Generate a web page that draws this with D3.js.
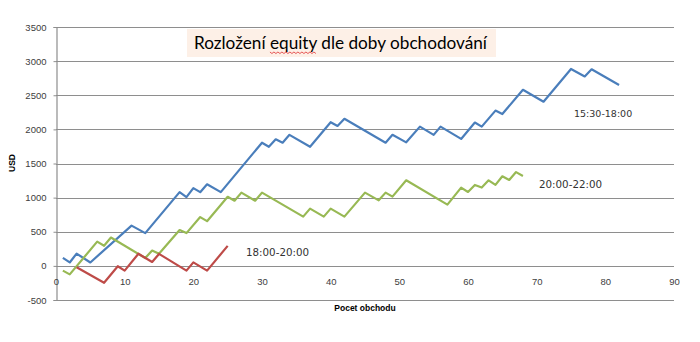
<!DOCTYPE html>
<html>
<head>
<meta charset="utf-8">
<script src="https://cdn.jsdelivr.net/npm/d3@7"></script>
<style>
	body { margin: 0; background: #fff; }
	svg { display: block; }
</style>
</head>
<body>
<main></main>
<script>

// DATA
// chart title and axis titles
const chartTitle = "Rozložení equity dle doby obchodování";
const xTitle = "Pocet obchodu";
const yTitle = "USD";
// tick labels
const xTicks = [0, 10, 20, 30, 40, 50, 60, 70, 80, 90];
const yTicks = [-500, 0, 500, 1000, 1500, 2000, 2500, 3000, 3500];
// series names
const seriesNames = ["15:30-18:00", "20:00-22:00", "18:00-20:00"];
// 15:30-18:00 (turning points of the equity curve)
const blueX = [1, 2, 3, 5, 11, 13, 18, 19, 20, 21, 22, 24, 30, 31, 32, 33, 34, 37, 40, 41, 42, 48, 49, 51, 53, 55, 56, 59, 61, 62, 64, 65, 68, 71, 75, 77, 78, 82];
const blueY = [118, 50, 180, 50, 590, 480, 1080, 1008, 1140, 1080, 1195, 1080, 1805, 1745, 1855, 1805, 1920, 1745, 2105, 2050, 2155, 1805, 1920, 1810, 2040, 1920, 2040, 1860, 2100, 2040, 2275, 2225, 2580, 2405, 2885, 2775, 2880, 2650];
// 20:00-22:00
const greenX = [1, 2, 6, 7, 8, 13, 14, 15, 18, 19, 21, 22, 25, 26, 27, 29, 30, 36, 37, 39, 40, 42, 45, 47, 48, 49, 51, 57, 59, 60, 61, 62, 63, 64, 65, 66, 67, 68];
const greenY = [-70, -125, 355, 295, 415, 115, 225, 178, 525, 480, 715, 655, 1012, 955, 1073, 955, 1073, 722, 839, 722, 839, 722, 1073, 960, 1073, 1015, 1254, 898, 1147, 1083, 1186, 1147, 1254, 1186, 1313, 1259, 1374, 1318];
// 18:00-20:00
const redX = [3, 7, 9, 10, 12, 14, 15, 19, 20, 22, 25];
const redY = [-20, -248, -5, -70, 178, 57, 175, -70, 52, -70, 293];


// CALLBACK: draw the chart with d3
function visualizeData() {
	// dimension
	const w = 700;
	const h = 342;
	const left = 56, right = 674, top = 27, bottom = 300;

	// scales
	const xScale = d3.scaleLinear().domain([0, 90]).range([left, right]);
	const yScale = d3.scaleLinear().domain([-500, 3500]).range([bottom, top]);

	// append an svg
	const svgNode = d3.select("main").append("svg").attr("width", w).attr("height", h);

	// horizontal gridlines
	svgNode.append("g").selectAll("line").data(yTicks).enter().append("line")
		.attr("x1", left).attr("x2", right)
		.attr("y1", d => Math.round(yScale(d)) + 0.5).attr("y2", d => Math.round(yScale(d)) + 0.5)
		.attr("stroke", "#8e8e8e").attr("stroke-width", 1.2);

	// y axis (line, small outside ticks, labels)
	const yAxis = d3.axisLeft(yScale).tickValues(yTicks).tickSize(3).tickPadding(7).tickFormat(d => d);
	const yG = svgNode.append("g").attr("transform", "translate(" + (left + 0.5) + ",0)").call(yAxis);
	yG.select(".domain").attr("stroke", "#8e8e8e").attr("stroke-width", 1.2);
	yG.selectAll(".tick line").attr("stroke", "#8e8e8e");
	yG.selectAll("text").attr("font-family", "Liberation Sans, Arial, sans-serif").attr("font-size", 9.5).attr("fill", "#404040");

	// x axis labels sit just under the zero line
	const xAxis = d3.axisBottom(xScale).tickValues(xTicks).tickSize(0).tickPadding(12);
	const xG = svgNode.append("g").attr("transform", "translate(0," + yScale(0) + ")").call(xAxis);
	xG.select(".domain").remove();
	xG.selectAll("text").attr("font-family", "Liberation Sans, Arial, sans-serif").attr("font-size", 9.5).attr("fill", "#404040");

	// axis titles
	svgNode.append("text").text(xTitle)
		.attr("x", 365).attr("y", 311).attr("text-anchor", "middle")
		.attr("font-family", "Liberation Sans, Arial, sans-serif").attr("font-size", 8.5).attr("font-weight", "bold").attr("fill", "#000");
	svgNode.append("text").text(yTitle)
		.attr("transform", "translate(15,163) rotate(-90)").attr("text-anchor", "middle")
		.attr("font-family", "Liberation Sans, Arial, sans-serif").attr("font-size", 8.5).attr("font-weight", "bold").attr("fill", "#000");

	// lines
	const line = d3.line().x(d => xScale(d[0])).y(d => yScale(d[1]));
	const series = [
		{ xs: blueX, ys: blueY, color: "#4a7ebb" },
		{ xs: greenX, ys: greenY, color: "#98b954" },
		{ xs: redX, ys: redY, color: "#be4b48" }
	];
	series.forEach(s => {
		svgNode.append("path")
			.datum(d3.zip(s.xs, s.ys))
			.attr("d", line)
			.attr("fill", "none")
			.attr("stroke", s.color)
			.attr("stroke-width", 2.2)
			.attr("stroke-linejoin", "round");
	});

	// series labels
	const labelPos = [[574, 117, 9.5], [539, 188, 10.3], [246, 256, 10.3]];
	seriesNames.forEach((name, i) => {
		svgNode.append("text").text(name)
			.attr("x", labelPos[i][0]).attr("y", labelPos[i][1])
			.attr("font-family", "DejaVu Sans, sans-serif").attr("font-size", labelPos[i][2]).attr("fill", "#333");
	});

	// title box
	svgNode.append("rect").attr("x", 187).attr("y", 29).attr("width", 309).attr("height", 28).attr("fill", "#fdf0e7");
	const title = svgNode.append("text").text(chartTitle)
		.attr("x", 194).attr("y", 49)
		.attr("font-family", "Lato, Open Sans, sans-serif").attr("font-size", 18).attr("fill", "#000")
		.attr("textLength", 293).attr("lengthAdjust", "spacingAndGlyphs");

	// red spell-check squiggle under "equity"
	const node = title.node();
	const start = chartTitle.indexOf("equity");
	const x0 = node.getStartPositionOfChar(start).x;
	const x1 = node.getEndPositionOfChar(start + 5).x;
	const pts = d3.range(x0, x1, 2).map((x, i) => [x, 52.5 + (i % 2 ? 1 : -0.5)]);
	svgNode.append("path").attr("d", d3.line()(pts))
		.attr("fill", "none").attr("stroke", "#e03030").attr("stroke-width", 0.8);
}


// MAIN
document.addEventListener('DOMContentLoaded', () => {
	visualizeData();
});
</script>
</body>
</html>
